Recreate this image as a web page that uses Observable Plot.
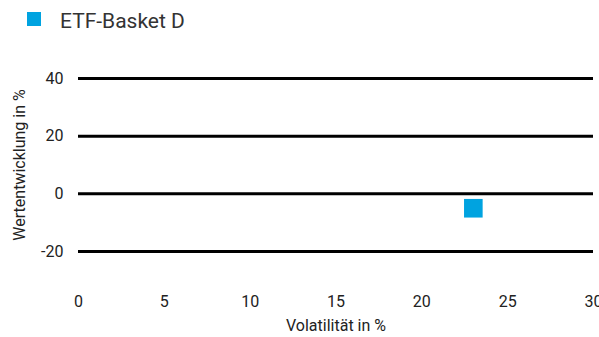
<!DOCTYPE html>
<html><head><meta charset="utf-8">
<script src="https://cdn.jsdelivr.net/npm/d3@7"></script>
<script src="https://cdn.jsdelivr.net/npm/@observablehq/plot@0.6"></script>
<style>
body{margin:0;background:#fff;font-family:Roboto,sans-serif;}
#legend{height:30px;position:relative;}
#legend .sw{position:absolute;left:27px;top:12px;width:14px;height:14px;background:#00a3e0;}
#legend .lb{position:absolute;left:60px;top:9px;font-size:21px;color:#333;line-height:24px;white-space:nowrap;}
</style></head>
<body>
<div id="legend"><span class="sw"></span><span class="lb">ETF-Basket D</span></div>
<div id="chart"></div>
<script>
const seriesName = "ETF-Basket D";
const volatility = [23];
const performance = [-5];
const xTicks = [0, 5, 10, 15, 20, 25, 30];
const yTicks = [-20, 0, 20, 40];

const data = volatility.map((v, i) => ({x: v, y: performance[i], name: seriesName}));

const chart = Plot.plot({
  width: 599,
  height: 307,
  marginLeft: 78,
  marginRight: 6,
  marginTop: 48,
  marginBottom: 86,
  style: {fontFamily: "Roboto, sans-serif", fontSize: "16px", color: "#222", overflow: "visible"},
  x: {domain: [0, 30]},
  y: {domain: [-20, 40]},
  marks: [
    Plot.ruleY(yTicks, {x1: 0, x2: 30, stroke: "#000", strokeWidth: 3}),
    Plot.axisY({ticks: yTicks, tickSize: 0, tickPadding: 15, tickFormat: d => String(d), label: "Wertentwicklung in %", labelAnchor: "center", labelArrow: "none", labelOffset: 65, fontSize: 16}),
    Plot.axisX({ticks: xTicks, tickSize: 0, tickPadding: 44, tickFormat: d => String(d), label: null, fontSize: 16}),
    Plot.text(["Volatilität in %"], {frameAnchor: "bottom", dy: 79, fontSize: 16, fill: "#222"}),
    Plot.dot(data, {x: "x", y: "y", symbol: "square", r: 10.5, fill: "#00a3e0", stroke: "none"})
  ]
});
document.getElementById("chart").appendChild(chart);
</script>
</body></html>
